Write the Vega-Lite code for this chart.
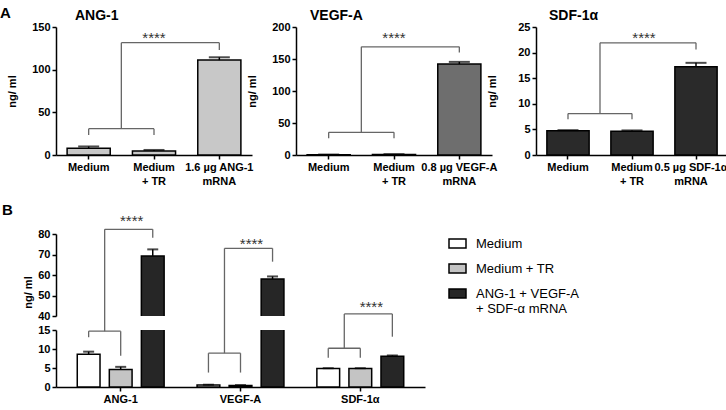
{
  "$schema": "https://vega.github.io/schema/vega-lite/v6.json",
  "padding": {"left": 0, "top": 6, "right": 0, "bottom": 0},
  "config": {
    "font": "Liberation Sans",
    "view": {"stroke": null},
    "axis": {"labelFont": "Liberation Sans", "labelFontWeight": "bold", "labelFontSize": 11, "labelColor": "black", "titleFont": "Liberation Sans", "titleFontWeight": "bold", "titleFontSize": 11, "titleColor": "black", "domainColor": "black", "domainWidth": 1.5, "tickColor": "black", "tickWidth": 1.5, "tickSize": 4, "labelPadding": 2, "grid": false},
    "axisX": {"labelAngle": 0, "title": null, "labelLineHeight": 14, "labelBaseline": "top"},
    "axisY": {"minExtent": 24, "maxExtent": 24, "labelOverlap": false, "tickCount": 12},
    "title": {"font": "Liberation Sans", "fontSize": 14, "fontWeight": "bold", "anchor": "start", "frame": "group", "color": "black", "offset": -2},
    "legend": {"labelFont": "Liberation Sans", "labelFontSize": 13, "labelColor": "black", "padding": 0}
  },
  "datasets": {
    "a": [
      {"gene": "ANG-1", "group": "Medium", "value": 8.0, "hi": 10.0},
      {"gene": "ANG-1", "group": "Medium + TR", "value": 4.7, "hi": 5.9},
      {"gene": "ANG-1", "group": "1.6 µg ANG-1 mRNA", "value": 111.2, "hi": 114.5},
      {"gene": "VEGF-A", "group": "Medium", "value": 0.4, "hi": 0.7},
      {"gene": "VEGF-A", "group": "Medium + TR", "value": 0.9, "hi": 1.3},
      {"gene": "VEGF-A", "group": "0.8 µg VEGF-A mRNA", "value": 142.0, "hi": 145.5},
      {"gene": "SDF-1α", "group": "Medium", "value": 4.75, "hi": 4.85},
      {"gene": "SDF-1α", "group": "Medium + TR", "value": 4.65, "hi": 4.8},
      {"gene": "SDF-1α", "group": "0.5 µg SDF-1α mRNA", "value": 17.25, "hi": 18.0}
    ],
    "abr": [
      {"gene": "ANG-1", "left": "Medium", "right": "Medium + TR", "target": "1.6 µg ANG-1 mRNA", "yl": 30.8, "legL": 23.4, "legR": 23.4, "yu": 131.6, "legU": 123, "star": 131.5, "sig": "****"},
      {"gene": "VEGF-A", "left": "Medium", "right": "Medium + TR", "target": "0.8 µg VEGF-A mRNA", "yl": 35.4, "legL": 26, "legR": 26, "yu": 169, "legU": 160, "star": 175.3, "sig": "****"},
      {"gene": "SDF-1α", "left": "Medium", "right": "Medium + TR", "target": "0.5 µg SDF-1α mRNA", "yl": 8.1, "legL": 7.0, "legR": 7.0, "yu": 21.9, "legU": 20.6, "star": 21.9, "sig": "****"}
    ],
    "b": [
      {"group": "ANG-1", "treatment": "Medium", "value": 8.6, "hi": 9.3},
      {"group": "ANG-1", "treatment": "Medium + TR", "value": 4.6, "hi": 5.3},
      {"group": "ANG-1", "treatment": "ANG-1 + VEGF-A + SDF-α mRNA", "value": 69.3, "hi": 72.5},
      {"group": "VEGF-A", "treatment": "Medium", "value": 0.5, "hi": 0.6},
      {"group": "VEGF-A", "treatment": "Medium + TR", "value": 0.4, "hi": 0.5},
      {"group": "VEGF-A", "treatment": "ANG-1 + VEGF-A + SDF-α mRNA", "value": 58.0, "hi": 59.3},
      {"group": "SDF-1α", "treatment": "Medium", "value": 4.9, "hi": 4.95},
      {"group": "SDF-1α", "treatment": "Medium + TR", "value": 4.85, "hi": 4.95},
      {"group": "SDF-1α", "treatment": "ANG-1 + VEGF-A + SDF-α mRNA", "value": 8.1, "hi": 8.3}
    ],
    "bbr": [
      {"group": "ANG-1", "yl": 14.7, "legL": 13.1, "legR": 8.2, "yu": 82.3, "legU": 78.2, "star": 84.0, "sig": "****"},
      {"group": "VEGF-A", "yl": 8.9, "legL": 3.8, "legR": 3.8, "yu": 73.0, "legU": 66.5, "star": 72.8, "sig": "****"},
      {"group": "SDF-1α", "yl": 10.2, "legL": 7.7, "legR": 7.7, "yu": 41.0, "legU": 29.9, "star": 42.0, "sig": "****"}
    ]
  },
  "resolve": {"legend": {"fill": "independent"}, "scale": {"fill": "independent"}},
  "spacing": 16,
  "vconcat": [
    {
      "title": {"text": "A", "fontSize": 15, "offset": 0, "frame": "bounds", "dx": -6, "dy": 12},
      "hconcat": [
        {
          "width": 196, "height": 128,
          "title": {"text": "ANG-1", "dx": 19},
          "layer": [
            {"data": {"name": "a"}, "transform": [{"filter": "datum.gene == 'ANG-1'"}],
             "mark": {"type": "bar", "fill": "#c8c8c8", "stroke": "black", "strokeWidth": 1.5},
             "encoding": {
               "x": {"field": "group", "type": "nominal", "sort": null, "scale": {"domain": ["Medium", "Medium + TR", "1.6 µg ANG-1 mRNA"], "paddingInner": 0.34, "paddingOuter": 0.17},
                     "axis": {"labelExpr": "datum.label == 'Medium + TR' ? ['Medium', '+ TR'] : indexof(datum.label, ' mRNA') > 0 ? [replace(datum.label, ' mRNA', ''), 'mRNA'] : datum.label"}},
               "y": {"field": "value", "type": "quantitative", "scale": {"domain": [0, 150], "nice": false}, "axis": {"values": [0, 50, 100, 150], "title": "ng/ ml", "titleX": -39}}
             }},
            {"data": {"name": "a"}, "transform": [{"filter": "datum.gene == 'ANG-1'"}],
             "mark": {"type": "rule", "color": "black", "strokeWidth": 1.5},
             "encoding": {"x": {"field": "group", "type": "nominal"}, "y": {"field": "value", "type": "quantitative"}, "y2": {"field": "hi"}}},
            {"data": {"name": "a"}, "transform": [{"filter": "datum.gene == 'ANG-1'"}],
             "mark": {"type": "tick", "color": "black", "thickness": 2, "size": 21},
             "encoding": {"x": {"field": "group", "type": "nominal"}, "y": {"field": "hi", "type": "quantitative"}}},
            {"data": {"name": "abr"}, "transform": [{"filter": "datum.gene == 'ANG-1'"}],
             "layer": [
               {"mark": {"type": "rule", "color": "#666", "strokeWidth": 1.3}, "encoding": {"x": {"field": "left", "type": "nominal"}, "x2": {"field": "right"}, "y": {"field": "yl", "type": "quantitative"}}},
               {"mark": {"type": "rule", "color": "#666", "strokeWidth": 1.3}, "encoding": {"x": {"field": "left", "type": "nominal"}, "y": {"field": "yl", "type": "quantitative"}, "y2": {"field": "legL"}}},
               {"mark": {"type": "rule", "color": "#666", "strokeWidth": 1.3}, "encoding": {"x": {"field": "right", "type": "nominal"}, "y": {"field": "yl", "type": "quantitative"}, "y2": {"field": "legR"}}},
               {"mark": {"type": "rule", "color": "#666", "strokeWidth": 1.3}, "encoding": {"x": {"field": "left", "type": "nominal", "bandPosition": 1.2576}, "y": {"field": "yl", "type": "quantitative"}, "y2": {"field": "yu"}}},
               {"mark": {"type": "rule", "color": "#666", "strokeWidth": 1.3}, "encoding": {"x": {"field": "left", "type": "nominal", "bandPosition": 1.2576}, "x2": {"field": "target"}, "y": {"field": "yu", "type": "quantitative"}}},
               {"mark": {"type": "rule", "color": "#666", "strokeWidth": 1.3}, "encoding": {"x": {"field": "target", "type": "nominal"}, "y": {"field": "yu", "type": "quantitative"}, "y2": {"field": "legU"}}},
               {"mark": {"type": "text", "fontSize": 15, "color": "#333", "baseline": "alphabetic"}, "encoding": {"x": {"field": "right", "type": "nominal"}, "y": {"field": "star", "type": "quantitative"}, "text": {"field": "sig"}}}
             ]}
          ]
        },
        {
          "width": 196, "height": 128,
          "title": {"text": "VEGF-A", "dx": 14},
          "layer": [
            {"data": {"name": "a"}, "transform": [{"filter": "datum.gene == 'VEGF-A'"}],
             "mark": {"type": "bar", "fill": "#6e6e6e", "stroke": "black", "strokeWidth": 1.5},
             "encoding": {
               "x": {"field": "group", "type": "nominal", "sort": null, "scale": {"domain": ["Medium", "Medium + TR", "0.8 µg VEGF-A mRNA"], "paddingInner": 0.34, "paddingOuter": 0.17},
                     "axis": {"labelExpr": "datum.label == 'Medium + TR' ? ['Medium', '+ TR'] : indexof(datum.label, ' mRNA') > 0 ? [replace(datum.label, ' mRNA', ''), 'mRNA'] : datum.label"}},
               "y": {"field": "value", "type": "quantitative", "scale": {"domain": [0, 200], "nice": false}, "axis": {"values": [0, 50, 100, 150, 200], "title": "ng/ ml", "titleX": -39}}
             }},
            {"data": {"name": "a"}, "transform": [{"filter": "datum.gene == 'VEGF-A'"}],
             "mark": {"type": "rule", "color": "black", "strokeWidth": 1.5},
             "encoding": {"x": {"field": "group", "type": "nominal"}, "y": {"field": "value", "type": "quantitative"}, "y2": {"field": "hi"}}},
            {"data": {"name": "a"}, "transform": [{"filter": "datum.gene == 'VEGF-A'"}],
             "mark": {"type": "tick", "color": "black", "thickness": 2, "size": 21},
             "encoding": {"x": {"field": "group", "type": "nominal"}, "y": {"field": "hi", "type": "quantitative"}}},
            {"data": {"name": "abr"}, "transform": [{"filter": "datum.gene == 'VEGF-A'"}],
             "layer": [
               {"mark": {"type": "rule", "color": "#666", "strokeWidth": 1.3}, "encoding": {"x": {"field": "left", "type": "nominal"}, "x2": {"field": "right"}, "y": {"field": "yl", "type": "quantitative"}}},
               {"mark": {"type": "rule", "color": "#666", "strokeWidth": 1.3}, "encoding": {"x": {"field": "left", "type": "nominal"}, "y": {"field": "yl", "type": "quantitative"}, "y2": {"field": "legL"}}},
               {"mark": {"type": "rule", "color": "#666", "strokeWidth": 1.3}, "encoding": {"x": {"field": "right", "type": "nominal"}, "y": {"field": "yl", "type": "quantitative"}, "y2": {"field": "legR"}}},
               {"mark": {"type": "rule", "color": "#666", "strokeWidth": 1.3}, "encoding": {"x": {"field": "left", "type": "nominal", "bandPosition": 1.2576}, "y": {"field": "yl", "type": "quantitative"}, "y2": {"field": "yu"}}},
               {"mark": {"type": "rule", "color": "#666", "strokeWidth": 1.3}, "encoding": {"x": {"field": "left", "type": "nominal", "bandPosition": 1.2576}, "x2": {"field": "target"}, "y": {"field": "yu", "type": "quantitative"}}},
               {"mark": {"type": "rule", "color": "#666", "strokeWidth": 1.3}, "encoding": {"x": {"field": "target", "type": "nominal"}, "y": {"field": "yu", "type": "quantitative"}, "y2": {"field": "legU"}}},
               {"mark": {"type": "text", "fontSize": 15, "color": "#333", "baseline": "alphabetic"}, "encoding": {"x": {"field": "right", "type": "nominal"}, "y": {"field": "star", "type": "quantitative"}, "text": {"field": "sig"}}}
             ]}
          ]
        },
        {
          "width": 192, "height": 128,
          "title": {"text": "SDF-1α", "dx": 13},
          "layer": [
            {"data": {"name": "a"}, "transform": [{"filter": "datum.gene == 'SDF-1α'"}],
             "mark": {"type": "bar", "fill": "#2a2a2a", "stroke": "black", "strokeWidth": 1.5},
             "encoding": {
               "x": {"field": "group", "type": "nominal", "sort": null, "scale": {"domain": ["Medium", "Medium + TR", "0.5 µg SDF-1α mRNA"], "paddingInner": 0.34, "paddingOuter": 0.17},
                     "axis": {"labelExpr": "datum.label == 'Medium + TR' ? ['Medium', '+ TR'] : indexof(datum.label, ' mRNA') > 0 ? [replace(datum.label, ' mRNA', ''), 'mRNA'] : datum.label",
                              "labelOffset": {"condition": {"test": "indexof(datum.value, 'SDF') >= 0", "value": -5}, "value": 0}}},
               "y": {"field": "value", "type": "quantitative", "scale": {"domain": [0, 25], "nice": false}, "axis": {"values": [0, 5, 10, 15, 20, 25], "title": "ng/ ml", "titleX": -39}}
             }},
            {"data": {"name": "a"}, "transform": [{"filter": "datum.gene == 'SDF-1α'"}],
             "mark": {"type": "rule", "color": "black", "strokeWidth": 1.5},
             "encoding": {"x": {"field": "group", "type": "nominal"}, "y": {"field": "value", "type": "quantitative"}, "y2": {"field": "hi"}}},
            {"data": {"name": "a"}, "transform": [{"filter": "datum.gene == 'SDF-1α'"}],
             "mark": {"type": "tick", "color": "black", "thickness": 2, "size": 21},
             "encoding": {"x": {"field": "group", "type": "nominal"}, "y": {"field": "hi", "type": "quantitative"}}},
            {"data": {"name": "abr"}, "transform": [{"filter": "datum.gene == 'SDF-1α'"}],
             "layer": [
               {"mark": {"type": "rule", "color": "#666", "strokeWidth": 1.3}, "encoding": {"x": {"field": "left", "type": "nominal"}, "x2": {"field": "right"}, "y": {"field": "yl", "type": "quantitative"}}},
               {"mark": {"type": "rule", "color": "#666", "strokeWidth": 1.3}, "encoding": {"x": {"field": "left", "type": "nominal"}, "y": {"field": "yl", "type": "quantitative"}, "y2": {"field": "legL"}}},
               {"mark": {"type": "rule", "color": "#666", "strokeWidth": 1.3}, "encoding": {"x": {"field": "right", "type": "nominal"}, "y": {"field": "yl", "type": "quantitative"}, "y2": {"field": "legR"}}},
               {"mark": {"type": "rule", "color": "#666", "strokeWidth": 1.3}, "encoding": {"x": {"field": "left", "type": "nominal", "bandPosition": 1.2576}, "y": {"field": "yl", "type": "quantitative"}, "y2": {"field": "yu"}}},
               {"mark": {"type": "rule", "color": "#666", "strokeWidth": 1.3}, "encoding": {"x": {"field": "left", "type": "nominal", "bandPosition": 1.2576}, "x2": {"field": "target"}, "y": {"field": "yu", "type": "quantitative"}}},
               {"mark": {"type": "rule", "color": "#666", "strokeWidth": 1.3}, "encoding": {"x": {"field": "target", "type": "nominal"}, "y": {"field": "yu", "type": "quantitative"}, "y2": {"field": "legU"}}},
               {"mark": {"type": "text", "fontSize": 15, "color": "#333", "baseline": "alphabetic", "dx": 12}, "encoding": {"x": {"field": "right", "type": "nominal"}, "y": {"field": "star", "type": "quantitative"}, "text": {"field": "sig"}}}
             ]}
          ]
        }
      ],
      "bounds": "flush",
      "spacing": 44
    },
    {
      "title": {"text": "B", "fontSize": 15, "offset": 0, "frame": "bounds", "dx": -20, "dy": 4},
      "resolve": {"legend": {"fill": "independent"}, "scale": {"fill": "independent"}},
      "bounds": "flush",
      "spacing": 14,
      "vconcat": [
        {
          "width": 369, "height": 82,
          "layer": [
            {"data": {"name": "b"},
             "mark": {"type": "bar", "stroke": "black", "strokeWidth": 1.5, "clip": true},
             "encoding": {
               "x": {"field": "group", "type": "nominal", "sort": null, "scale": {"domain": ["ANG-1", "VEGF-A", "SDF-1α"], "paddingInner": 0.2, "paddingOuter": 0.14}, "axis": null},
               "xOffset": {"field": "treatment", "type": "nominal", "sort": null, "scale": {"domain": ["Medium", "Medium + TR", "ANG-1 + VEGF-A + SDF-α mRNA"], "paddingInner": 0.29, "paddingOuter": 0.14}},
               "y": {"field": "value", "type": "quantitative", "scale": {"domain": [40, 80], "nice": false, "zero": false}, "axis": {"values": [40, 50, 60, 70, 80], "title": "ng/ ml", "titleY": 58, "titleX": -23}},
               "fill": {"field": "treatment", "type": "nominal", "sort": null, "scale": {"domain": ["Medium", "Medium + TR", "ANG-1 + VEGF-A + SDF-α mRNA"], "range": ["white", "#c4c4c4", "#262626"]},
                        "legend": {"title": null, "orient": "right", "offset": 23, "symbolType": "M-1,-0.53H1V0.53H-1Z", "symbolSize": 289, "symbolStrokeColor": "black", "symbolStrokeWidth": 1.5, "symbolOpacity": 1, "labelOffset": 9, "rowPadding": 7,
                                   "labelExpr": "indexof(datum.label, 'ANG-1 +') == 0 ? ['ANG-1 + VEGF-A', '+ SDF-α mRNA'] : datum.label"}}
             }},
            {"data": {"name": "b"},
             "mark": {"type": "rule", "color": "black", "strokeWidth": 1.5, "clip": true},
             "encoding": {"x": {"field": "group", "type": "nominal"}, "xOffset": {"field": "treatment", "type": "nominal"}, "y": {"field": "value", "type": "quantitative"}, "y2": {"field": "hi"}}},
            {"data": {"name": "b"},
             "mark": {"type": "tick", "color": "black", "thickness": 2, "size": 11, "clip": true},
             "encoding": {"x": {"field": "group", "type": "nominal"}, "xOffset": {"field": "treatment", "type": "nominal"}, "y": {"field": "hi", "type": "quantitative"}}},
            {"data": {"name": "bbr"},
             "layer": [
               {"mark": {"type": "rule", "color": "#666", "strokeWidth": 1.3}, "encoding": {"x": {"field": "group", "type": "nominal", "bandPosition": 0.3328}, "y": {"field": "yu", "type": "quantitative"}, "y2": {"datum": 40}}},
               {"mark": {"type": "rule", "color": "#666", "strokeWidth": 1.3}, "encoding": {"x": {"field": "group", "type": "nominal", "bandPosition": 0.3328}, "x2": {"field": "group", "bandPosition": 0.8344}, "y": {"field": "yu", "type": "quantitative"}}},
               {"mark": {"type": "rule", "color": "#666", "strokeWidth": 1.3}, "encoding": {"x": {"field": "group", "type": "nominal", "bandPosition": 0.8344}, "y": {"field": "yu", "type": "quantitative"}, "y2": {"field": "legU"}}},
               {"mark": {"type": "text", "fontSize": 15, "color": "#333", "baseline": "alphabetic", "dx": 11}, "encoding": {"x": {"field": "group", "type": "nominal"}, "y": {"field": "star", "type": "quantitative"}, "text": {"field": "sig"}}}
             ]}
          ]
        },
        {
          "width": 369, "height": 57,
          "layer": [
            {"data": {"name": "b"},
             "mark": {"type": "bar", "stroke": "black", "strokeWidth": 1.5, "clip": true},
             "encoding": {
               "x": {"field": "group", "type": "nominal", "sort": null, "scale": {"domain": ["ANG-1", "VEGF-A", "SDF-1α"], "paddingInner": 0.2, "paddingOuter": 0.14}},
               "xOffset": {"field": "treatment", "type": "nominal", "sort": null, "scale": {"domain": ["Medium", "Medium + TR", "ANG-1 + VEGF-A + SDF-α mRNA"], "paddingInner": 0.29, "paddingOuter": 0.14}},
               "y": {"field": "value", "type": "quantitative", "scale": {"domain": [0, 15], "nice": false}, "axis": {"values": [0, 5, 10, 15], "title": null}},
               "fill": {"field": "treatment", "type": "nominal", "sort": null, "scale": {"domain": ["Medium", "Medium + TR", "ANG-1 + VEGF-A + SDF-α mRNA"], "range": ["white", "#c4c4c4", "#262626"]}, "legend": null}
             }},
            {"data": {"name": "b"},
             "mark": {"type": "rule", "color": "black", "strokeWidth": 1.5, "clip": true},
             "encoding": {"x": {"field": "group", "type": "nominal"}, "xOffset": {"field": "treatment", "type": "nominal"}, "y": {"field": "value", "type": "quantitative"}, "y2": {"field": "hi"}}},
            {"data": {"name": "b"},
             "mark": {"type": "tick", "color": "black", "thickness": 2, "size": 11, "clip": true},
             "encoding": {"x": {"field": "group", "type": "nominal"}, "xOffset": {"field": "treatment", "type": "nominal"}, "y": {"field": "hi", "type": "quantitative"}}},
            {"data": {"name": "bbr"},
             "layer": [
               {"mark": {"type": "rule", "color": "#666", "strokeWidth": 1.3}, "encoding": {"x": {"field": "group", "type": "nominal", "bandPosition": 0.1656}, "x2": {"field": "group", "bandPosition": 0.5}, "y": {"field": "yl", "type": "quantitative"}}},
               {"mark": {"type": "rule", "color": "#666", "strokeWidth": 1.3}, "encoding": {"x": {"field": "group", "type": "nominal", "bandPosition": 0.1656}, "y": {"field": "yl", "type": "quantitative"}, "y2": {"field": "legL"}}},
               {"mark": {"type": "rule", "color": "#666", "strokeWidth": 1.3}, "encoding": {"x": {"field": "group", "type": "nominal", "bandPosition": 0.5}, "y": {"field": "yl", "type": "quantitative"}, "y2": {"field": "legR"}}},
               {"mark": {"type": "rule", "color": "#666", "strokeWidth": 1.3}, "encoding": {"x": {"field": "group", "type": "nominal", "bandPosition": 0.3328}, "y": {"field": "yl", "type": "quantitative"}, "y2": {"datum": 18.7}}}
             ]}
          ]
        }
      ]
    }
  ]
}
